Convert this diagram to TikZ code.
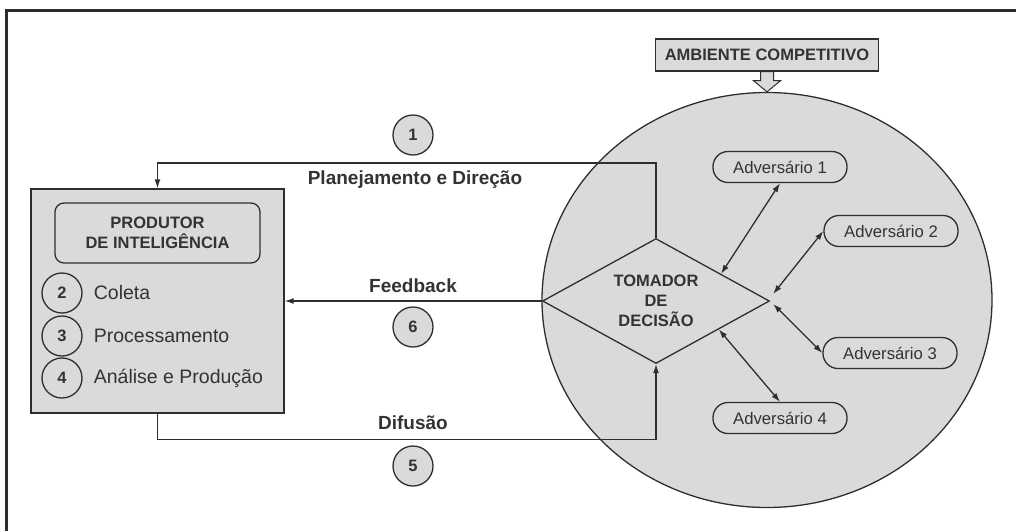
\documentclass[tikz,border=0pt]{standalone}
\usepackage{fontspec}
\setmainfont{Liberation Sans}
\usetikzlibrary{positioning,calc,shapes.geometric,arrows.meta}
\definecolor{boxgray}{HTML}{DADADA}
\definecolor{linegray}{HTML}{2E2E2E}
\definecolor{textgray}{HTML}{333333}

\begin{document}
\begin{tikzpicture}[x=1pt, y=-1pt,
        every node/.style={text=textgray},
        darkline/.style={draw=linegray, line width=1.3pt},
        conn/.style={darkline, -{Latex[length=9pt, width=6pt]}},
        dbl/.style={darkline, {Latex[length=9pt, width=6pt]}-{Latex[length=9pt, width=6pt]}},
        capsfont/.style={font=\fontsize{16.5}{20}\selectfont\bfseries},
        numcirc/.style={circle, darkline, fill=boxgray, minimum size=40pt, inner sep=0pt, font=\fontsize{16.5}{19}\selectfont\bfseries},
        advbox/.style={darkline, fill=boxgray, rounded corners=15pt, minimum width=134pt, minimum height=31pt, inner sep=0pt, font=\fontsize{16.7}{20}\selectfont},
        lbl/.style={inner sep=0pt, font=\fontsize{19}{22}\selectfont\bfseries},
        listtext/.style={inner sep=0pt, font=\fontsize{19.5}{22}\selectfont}]
        \useasboundingbox (0,0) rectangle (1016,531);

        % outer frame (cut at right and bottom)
        \draw[draw=linegray, line width=3pt] (6,531) -- (6,10) -- (1016,10);

        % competitive environment
        \node[ellipse, darkline, fill=boxgray, minimum width=450pt, minimum height=415pt] (env) at (767,300) {};
        \node[darkline, fill=boxgray, minimum width=223pt, minimum height=32pt, inner sep=0pt, capsfont] (amb) at (767,55) {AMBIENTE COMPETITIVO};
        \draw[darkline, line width=1pt, fill=boxgray] ($(amb.south)+(-6.5,0)$) -- ++(0,9) -- ++(-7,0) -- (env.north)
            -- ($(amb.south)+(13.5,9)$) -- ++(-7,0) -- ++(0,-9) -- cycle;

        % intelligence producer
        \node[darkline, fill=boxgray, minimum width=253pt, minimum height=224pt] (prod) at (157.5,301) {};
        \node[darkline, fill=boxgray, rounded corners=9pt, minimum width=205pt, minimum height=60pt, inner sep=0pt, align=center, capsfont] (title) at (157.5,233) {PRODUTOR\\DE INTELIGÊNCIA};
        \node[numcirc] (coleta) at (62,293) {2};
        \node[numcirc] (proc) at (62,336) {3};
        \node[numcirc] (analise) at (62,378) {4};
        \node[listtext, right=11pt of coleta.east, anchor=west] (coletatxt) {Coleta};
        \node[listtext, right=11pt of proc.east, anchor=west] (proctxt) {Processamento};
        \node[listtext, right=11pt of analise.east, anchor=west] (analisetxt) {Análise e Produção};

        % decision maker and adversaries
        \node[diamond, darkline, fill=boxgray, minimum width=227pt, minimum height=125pt, aspect=1.8, inner sep=0pt, align=center, capsfont] (dec) at (656,301) {TOMADOR\\DE\\DECISÃO};
        \node[advbox] (adv1) at (780,167) {Adversário 1};
        \node[advbox] (adv2) at (891,231) {Adversário 2};
        \node[advbox] (adv3) at (890,353) {Adversário 3};
        \node[advbox] (adv4) at (780,418) {Adversário 4};
        \draw[dbl] (adv1.south) -- ($(dec.north)!0.57!(dec.east)$);
        \draw[dbl] (adv2.west) -- ($(dec.east)+(3,-7)$);
        \draw[dbl] ($(dec.east)+(3,3)$) -- (adv3.west);
        \draw[dbl] ($(dec.east)!0.45!(dec.south)$) -- (adv4.north);

        % cycle
        \draw[conn] (dec.north) -- ++(0,-75) -| (prod.north);
        \draw[conn] (dec.west) -- (prod.east);
        \draw[conn] (prod.south) -- ++(0,26) -| (dec.south);

        \node[numcirc] (n1) at (413,135) {1};
        \node[lbl] (planlbl) at (415,180) {Planejamento e Direção};
        \node[lbl] (fblbl) at (413,286) {Feedback};
        \node[numcirc] (n6) at (413,327) {6};
        \node[lbl] (difulbl) at (413,423) {Difusão};
        \node[numcirc] (n5) at (413,466) {5};
\end{tikzpicture}
\end{document}
